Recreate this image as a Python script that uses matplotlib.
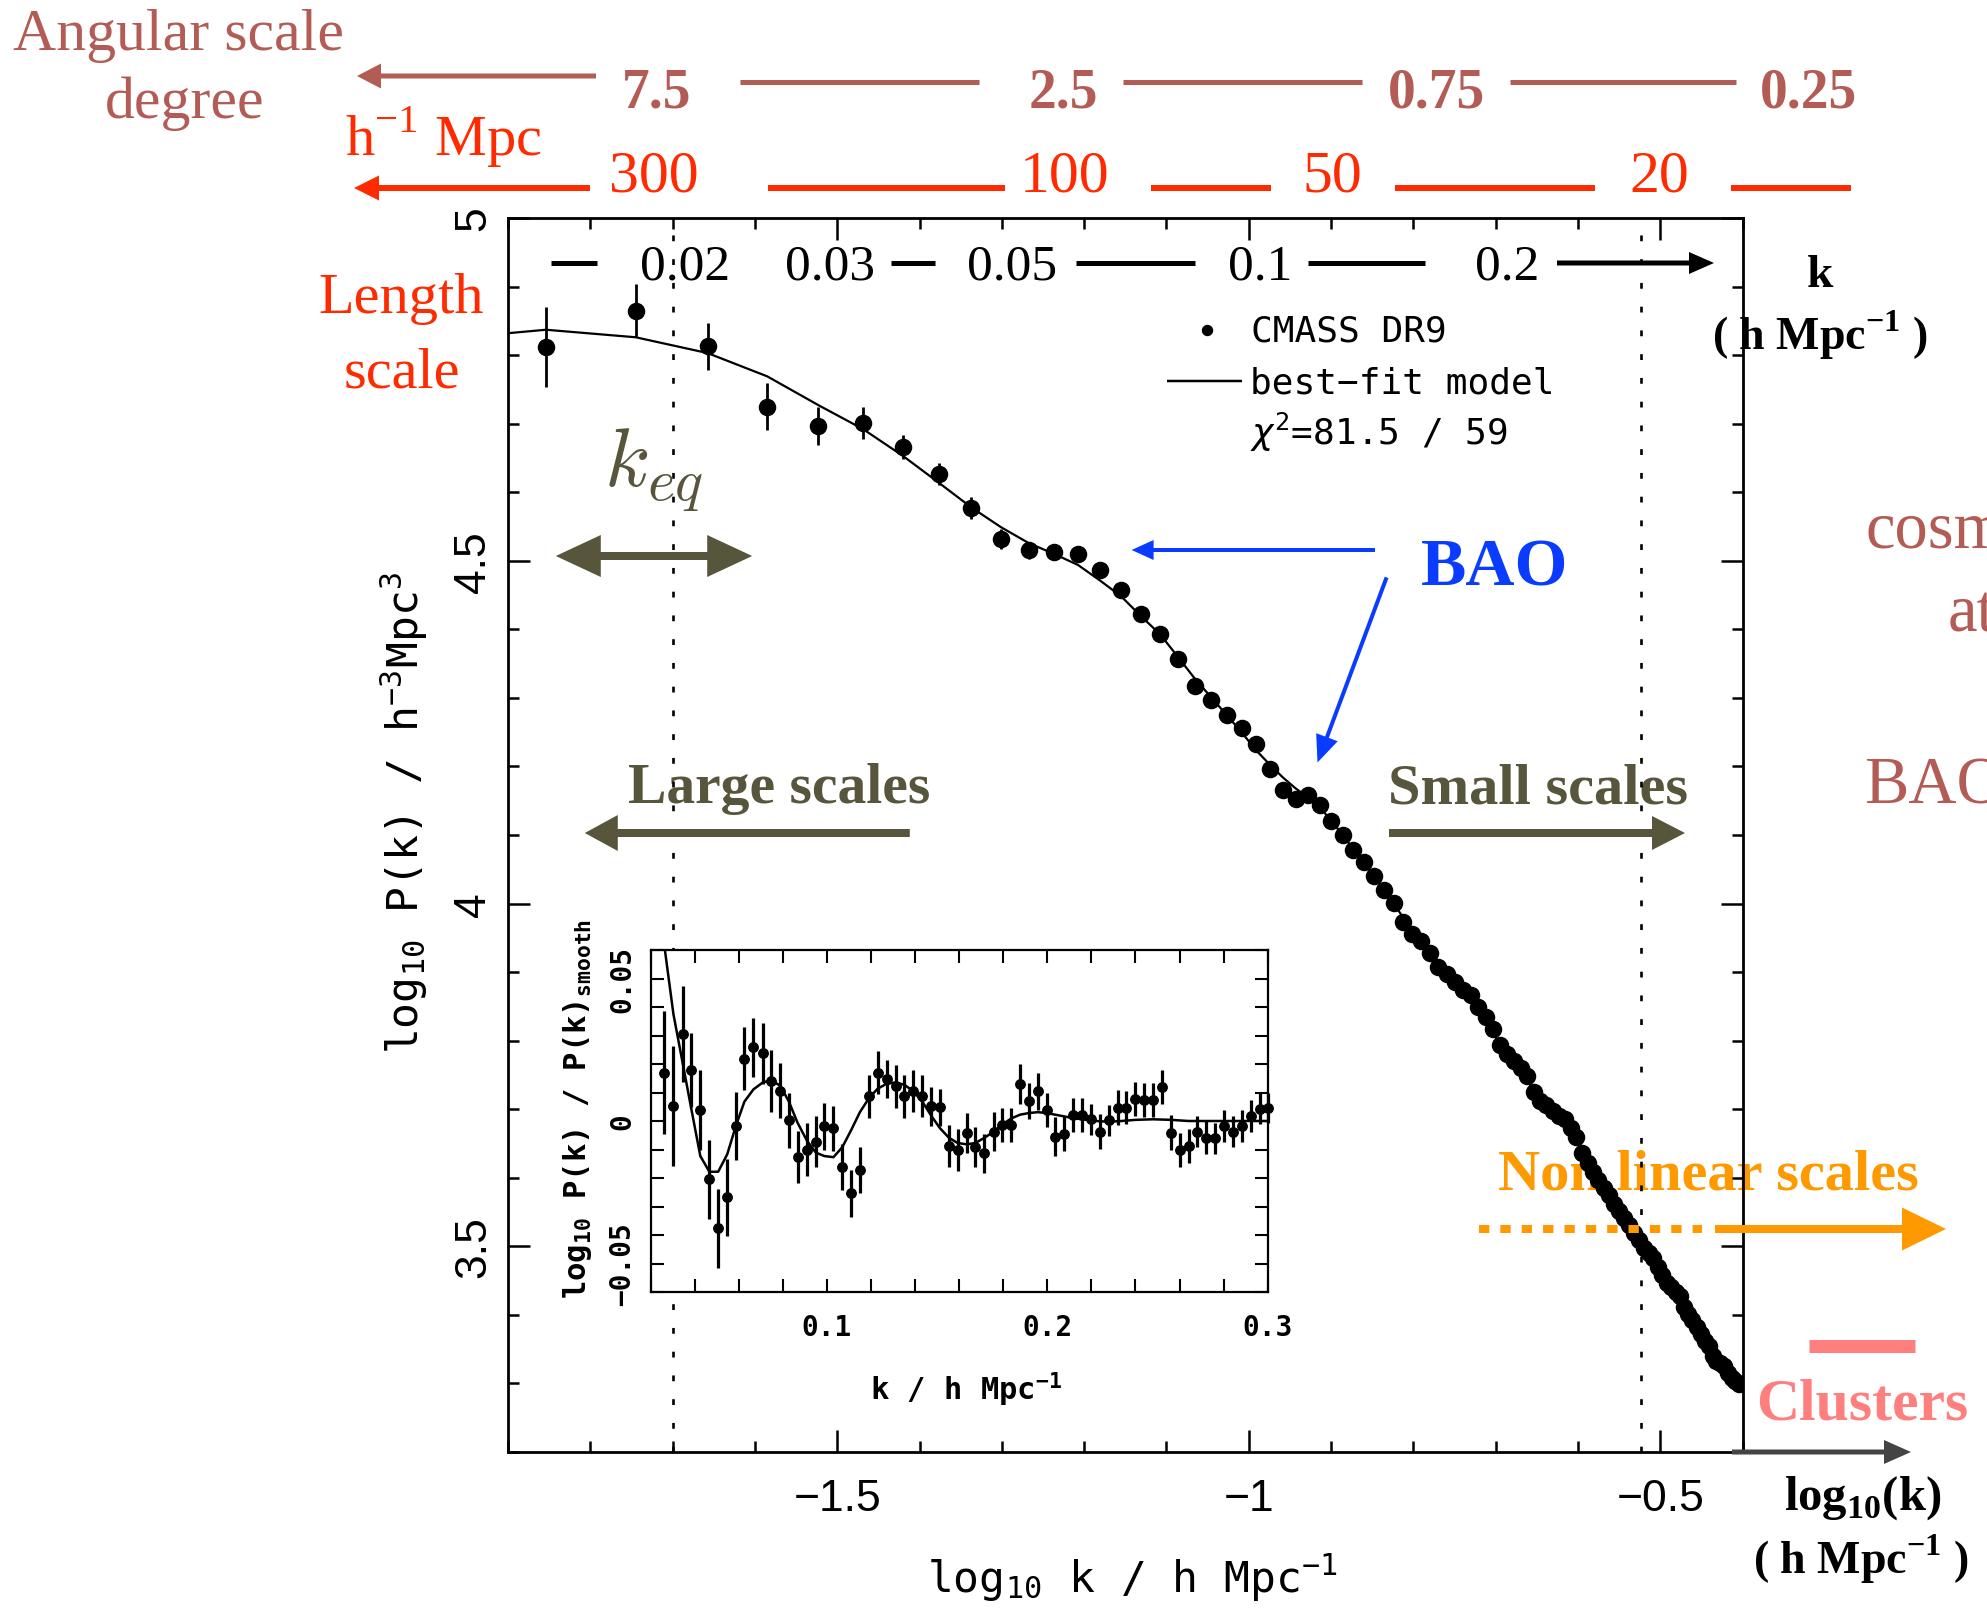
import numpy as np
import matplotlib
matplotlib.use("Agg")
import matplotlib.pyplot as plt
from matplotlib.lines import Line2D
from matplotlib.patches import FancyArrowPatch
from matplotlib.ticker import MultipleLocator
import matplotlib.transforms as mtransforms

# CMASS DR9 power spectrum (main panel)
k_data = [0.014, 0.018, 0.022, 0.026, 0.030, 0.034, 0.038, 0.042, 0.046, 0.050,
          0.054, 0.058, 0.062, 0.066, 0.070, 0.074, 0.078, 0.082, 0.086, 0.090,
          0.094, 0.098, 0.102, 0.106, 0.110, 0.114, 0.118, 0.122, 0.126, 0.130,
          0.134, 0.138, 0.142, 0.146, 0.150, 0.154, 0.158, 0.162, 0.166, 0.170,
          0.174, 0.178, 0.182, 0.186, 0.190, 0.194, 0.198, 0.202, 0.206, 0.210,
          0.214, 0.218, 0.222, 0.226, 0.230, 0.234, 0.238, 0.242, 0.246, 0.250,
          0.254, 0.258, 0.262, 0.266, 0.270, 0.274, 0.278, 0.282, 0.286, 0.290,
          0.294, 0.298, 0.302, 0.306, 0.310, 0.314, 0.318, 0.322, 0.326, 0.330,
          0.334, 0.338, 0.342, 0.346, 0.350, 0.354, 0.358, 0.362, 0.366, 0.370,
          0.374, 0.378, 0.382, 0.386, 0.390, 0.394]
logp_data = [4.812, 4.865, 4.813, 4.725, 4.697, 4.701, 4.666, 4.627, 4.577, 4.532,
             4.515, 4.513, 4.510, 4.487, 4.457, 4.422, 4.393, 4.357, 4.318, 4.297,
             4.275, 4.256, 4.233, 4.197, 4.166, 4.152, 4.158, 4.144, 4.121, 4.100,
             4.078, 4.060, 4.040, 4.020, 4.001, 3.973, 3.955, 3.945, 3.928, 3.907,
             3.897, 3.886, 3.874, 3.866, 3.849, 3.834, 3.817, 3.793, 3.780, 3.770,
             3.760, 3.749, 3.725, 3.712, 3.706, 3.698, 3.690, 3.686, 3.672, 3.660,
             3.636, 3.622, 3.608, 3.597, 3.585, 3.575, 3.562, 3.552, 3.541, 3.531,
             3.520, 3.509, 3.497, 3.490, 3.483, 3.470, 3.458, 3.447, 3.440, 3.433,
             3.427, 3.412, 3.402, 3.392, 3.382, 3.372, 3.362, 3.354, 3.340, 3.333,
             3.330, 3.326, 3.315, 3.308, 3.303, 3.299]
logp_err = [0.058, 0.038, 0.034, 0.034, 0.028, 0.023, 0.017, 0.016, 0.016, 0.015,
            0.013, 0.012, 0.010, 0.009, 0.009, 0.008, 0.008, 0.007, 0.007, 0.007,
            0.006, 0.006, 0.006, 0.006, 0.005, 0.005, 0.005, 0.005, 0.005, 0.005,
            0.005, 0.005, 0.005, 0.005, 0.005, 0.005, 0.005, 0.005, 0.005, 0.005,
            0.005, 0.005, 0.005, 0.005, 0.005, 0.005, 0.005, 0.005, 0.005, 0.005,
            0.004, 0.004, 0.004, 0.004, 0.004, 0.004, 0.004, 0.004, 0.004, 0.004,
            0.004, 0.004, 0.004, 0.004, 0.004, 0.004, 0.004, 0.004, 0.004, 0.004,
            0.004, 0.004, 0.004, 0.004, 0.004, 0.004, 0.004, 0.004, 0.004, 0.004,
            0.004, 0.004, 0.004, 0.004, 0.004, 0.004, 0.004, 0.004, 0.004, 0.004,
            0.004, 0.004, 0.004, 0.004, 0.004, 0.004]

# best-fit model (main panel)
k_model = [0.0126, 0.014, 0.018, 0.022, 0.026, 0.030, 0.034, 0.038, 0.042, 0.046,
           0.050, 0.054, 0.058, 0.062, 0.066, 0.070, 0.074, 0.078, 0.082, 0.086,
           0.090, 0.094, 0.098, 0.102, 0.106, 0.110, 0.114, 0.118, 0.122, 0.126,
           0.130, 0.140, 0.150, 0.160, 0.170, 0.180, 0.190, 0.200, 0.220, 0.250,
           0.300, 0.350, 0.394]
logp_model = [4.832, 4.837, 4.826, 4.803, 4.769, 4.727, 4.692, 4.653, 4.614, 4.578,
              4.549, 4.526, 4.510, 4.494, 4.471, 4.448, 4.419, 4.393, 4.360, 4.328,
              4.301, 4.275, 4.250, 4.224, 4.203, 4.184, 4.168, 4.155, 4.140, 4.121,
              4.100, 4.050, 4.000, 3.950, 3.908, 3.878, 3.849, 3.803, 3.735, 3.658,
              3.505, 3.382, 3.300]

# inset: BAO wiggles
k_bao = [0.0261, 0.0304, 0.0346, 0.0385, 0.0426, 0.0467, 0.0507, 0.0548, 0.0587, 0.0626,
         0.0667, 0.0709, 0.0748, 0.0789, 0.0828, 0.0867, 0.0909, 0.0950, 0.0989, 0.1030,
         0.1070, 0.1111, 0.1150, 0.1191, 0.1230, 0.1272, 0.1313, 0.1352, 0.1393, 0.1433,
         0.1474, 0.1513, 0.1554, 0.1593, 0.1635, 0.1674, 0.1715, 0.1757, 0.1796, 0.1837,
         0.1876, 0.1917, 0.1957, 0.1998, 0.2037, 0.2078, 0.2117, 0.2157, 0.2198, 0.2237,
         0.2278, 0.2320, 0.2359, 0.2400, 0.2439, 0.2480, 0.2520, 0.2561, 0.2600, 0.2641,
         0.2680, 0.2722, 0.2761, 0.2802, 0.2841, 0.2883, 0.2922, 0.2963, 0.3002]
bao_ratio = [0.0170, 0.0053, 0.0305, 0.0178, 0.0039, -0.0205, -0.0377, -0.0267, -0.0018, 0.0219,
             0.0258, 0.0237, 0.0141, 0.0107, 0.0002, -0.0127, -0.0100, -0.0072, -0.0018, -0.0026,
             -0.0161, -0.0254, -0.0172, 0.0086, 0.0170, 0.0147, 0.0122, 0.0086, 0.0104, 0.0088,
             0.0052, 0.0048, -0.0088, -0.0101, -0.0041, -0.0090, -0.0114, -0.0037, -0.0014, -0.0014,
             0.0131, 0.0070, 0.0104, 0.0039, -0.0055, -0.0045, 0.0021, 0.0022, 0.0006, -0.0037,
             0.0002, 0.0047, 0.0047, 0.0077, 0.0074, 0.0074, 0.0119, -0.0041, -0.0102, -0.0088,
             -0.0037, -0.0058, -0.0061, -0.0018, -0.0037, -0.0018, 0.0018, 0.0043, 0.0047]
bao_err = [0.0217, 0.0211, 0.0168, 0.0130, 0.0141, 0.0138, 0.0138, 0.0135, 0.0119, 0.0111,
           0.0104, 0.0107, 0.0108, 0.0098, 0.0096, 0.0092, 0.0092, 0.0088, 0.0082, 0.0080,
           0.0082, 0.0082, 0.0080, 0.0076, 0.0074, 0.0068, 0.0076, 0.0076, 0.0074, 0.0074,
           0.0068, 0.0064, 0.0074, 0.0074, 0.0070, 0.0070, 0.0070, 0.0068, 0.0061, 0.0061,
           0.0070, 0.0064, 0.0064, 0.0061, 0.0068, 0.0061, 0.0059, 0.0059, 0.0055, 0.0061,
           0.0055, 0.0061, 0.0059, 0.0059, 0.0059, 0.0059, 0.0059, 0.0061, 0.0061, 0.0059,
           0.0055, 0.0059, 0.0055, 0.0055, 0.0055, 0.0055, 0.0055, 0.0055, 0.0053]
k_bao_model = [0.0255, 0.0304, 0.0346, 0.0385, 0.0426, 0.0467, 0.0507, 0.0548, 0.0587, 0.0626,
               0.0667, 0.0709, 0.0748, 0.0789, 0.0828, 0.0867, 0.0909, 0.0950, 0.0989, 0.1030,
               0.1070, 0.1111, 0.1150, 0.1191, 0.1230, 0.1272, 0.1313, 0.1352, 0.1393, 0.1433,
               0.1474, 0.1513, 0.1554, 0.1593, 0.1635, 0.1674, 0.1715, 0.1757, 0.1796, 0.1837,
               0.1876, 0.1917, 0.1957, 0.1998, 0.2037, 0.2078, 0.2117, 0.2157, 0.2198, 0.2237,
               0.2278, 0.2320, 0.2400, 0.2480, 0.2561, 0.2641, 0.3000]
bao_model = [0.0660, 0.0375, 0.0203, 0.0043, -0.0123, -0.0178, -0.0178, -0.0117, -0.0018, 0.0068,
             0.0111, 0.0135, 0.0144, 0.0123, 0.0068, -0.0006, -0.0068, -0.0111, -0.0123, -0.0127,
             -0.0092, -0.0031, 0.0031, 0.0080, 0.0113, 0.0131, 0.0135, 0.0127, 0.0104, 0.0068,
             0.0018, -0.0025, -0.0059, -0.0077, -0.0082, -0.0077, -0.0059, -0.0037, -0.0012, 0.0009,
             0.0022, 0.0028, 0.0031, 0.0028, 0.0022, 0.0016, 0.0010, 0.0006, 0.0002, -0.0001,
             -0.0002, -0.0001, 0.0004, 0.0006, 0.0004, 0.0000, 0.0000]

# tick labels and scale annotations
main_xticks = [-1.5, -1.0, -0.5]
main_xticklabels = ['\u22121.5', '\u22121', '\u22120.5']
main_yticks = [3.5, 4.0, 4.5, 5.0]
main_yticklabels = ['3.5', '4', '4.5', '5']
inset_xticks = [0.1, 0.2, 0.3]
inset_xticklabels = ['0.1', '0.2', '0.3']
inset_yticks = [-0.05, 0.0, 0.05]
inset_yticklabels = ['\u22120.05', '0', '0.05']
top_k = [0.02, 0.03, 0.05, 0.1, 0.2]
top_k_labels = ['0.02', '0.03', '0.05', '0.1', '0.2']
vline_k = [0.02, 0.3]
deg_labels = ['7.5', '2.5', '0.75', '0.25']
mpc_labels = ['300', '100', '50', '20']

brown = '#B35C55'
red = '#FF2A00'
olive = '#57553C'
blue = '#0A3CFF'
orange = '#FF9900'
pink = '#FF7F7F'
grey = '#444444'
SERIF = 'Liberation Serif'
MONO = 'DejaVu Sans Mono'

plt.rcParams['font.family'] = ['Liberation Sans', 'DejaVu Sans']

W, H = 1987, 1615
fig = plt.figure(figsize=(W / 100, H / 100), dpi=100)


def fx(px):
    return px / W


def fy(py):
    return 1 - py / H


ax = fig.add_axes([fx(508), fy(1453), (1742.6 - 508) / W, (1453 - 219) / H])


def ftext(px, py, s, z=4, **kw):
    return ax.text(fx(px), fy(py), s, transform=fig.transFigure, clip_on=False, zorder=z, **kw)


def arrow(x0, y0, x1, y1, color, tail, head_len, head_w, z=4):
    p = FancyArrowPatch((fx(x0), fy(y0)), (fx(x1), fy(y1)), transform=fig.transFigure,
                        arrowstyle='simple,head_length=%g,head_width=%g,tail_width=%g'
                        % (head_len * 0.72, head_w * 0.72, tail * 0.72),
                        mutation_scale=1, color=color, lw=0, shrinkA=0, shrinkB=0, zorder=z)
    ax.add_artist(p)
    p.set_clip_on(False)


def seg(x0, x1, y0, color, lw_px, z=4, y1=None, **kw):
    if y1 is None:
        y1 = y0
    ln = Line2D([fx(x0), fx(x1)], [fy(y0), fy(y1)], transform=fig.transFigure,
                color=color, lw=lw_px * 0.72, solid_capstyle='butt', zorder=z, **kw)
    ax.add_artist(ln)
    ln.set_clip_on(False)


# ---- main panel
ax.errorbar(np.log10(k_data), logp_data, yerr=logp_err, fmt='o', color='k', ms=11.6,
             elinewidth=2.0, capsize=0, zorder=3)
ax.plot(np.log10(k_model), logp_model, color='k', lw=1.6, zorder=3)
for kv in vline_k:
    ax.axvline(np.log10(kv), color='k', lw=1.9, ls=(0, (2.2, 6.8)), zorder=2)

ax.set_xlim(-1.9, -0.4)
ax.set_ylim(3.2, 5.0)
ax.set_xticks(main_xticks)
ax.set_xticklabels(main_xticklabels, fontsize=32)
ax.set_yticks(main_yticks)
ax.set_yticklabels(main_yticklabels, fontsize=32, rotation=90, va='center')
ax.xaxis.set_minor_locator(MultipleLocator(0.1))
ax.yaxis.set_minor_locator(MultipleLocator(0.1))
ax.tick_params(which='both', direction='in', top=True, right=True, width=1.8)
ax.tick_params(which='major', length=15.5)
ax.tick_params(which='minor', length=8)
ax.tick_params(axis='x', pad=19)
ax.tick_params(axis='y', pad=10)
for sp in ax.spines.values():
    sp.set_linewidth(2.0)

ftext(1132, 1578, 'log$_{\\mathregular{10}}$ k / h Mpc$^{\\mathregular{-1}}$', family=MONO,
      fontsize=31, ha='center', va='center')
ftext(404, 813, 'log$_{\\mathregular{10}}$ P(k) / h$^{\\mathregular{-3}}$Mpc$^{\\mathregular{3}}$',
      family=MONO, fontsize=31, ha='center', va='center', rotation=90)

# legend
leg = Line2D([fx(1207.3)], [fy(330.7)], transform=fig.transFigure, marker='o', ms=7.2,
             color='k', ls='none')
ax.add_artist(leg)
leg.set_clip_on(False)
ftext(1251, 342, 'CMASS DR9', family=MONO, fontsize=26, va='baseline')
seg(1166.7, 1241.7, 381.7, 'k', 2.5)
ftext(1250, 393, 'best\u2212fit model', family=MONO, fontsize=26, va='baseline')
ftext(1250, 445, '$\\chi^{\\mathregular{2}}$=81.5 / 59', family=MONO, fontsize=26, va='baseline')

# k scale along the top inside the frame
tr_top = mtransforms.blended_transform_factory(ax.transData, fig.transFigure)
for kv, lab in zip(top_k, top_k_labels):
    ax.text(np.log10(kv) + 0.0135, fy(279.5), lab, transform=tr_top, family=SERIF,
            fontsize=37, ha='center', va='baseline', zorder=4)
for a, b in [(551, 597), (890.6, 935.3), (1075.5, 1195), (1308, 1425)]:
    seg(a, b, 264, 'k', 5)
arrow(1557, 264, 1714, 264, 'k', 5, 25, 22)
ftext(1820, 287, 'k', family=SERIF, fontsize=34, fontweight='bold', ha='center', va='baseline')
ftext(1820, 350, '( h Mpc$^{\\mathregular{-1}}$ )', family=SERIF, fontsize=33,
      fontweight='bold', ha='center', va='baseline')

# angular scale (degree)
ftext(178.5, 50, 'Angular scale', family=SERIF, fontsize=43, color=brown, ha='center', va='baseline')
ftext(185, 118, 'degree', family=SERIF, fontsize=43, color=brown, ha='center', va='baseline')
arrow(596, 77, 357, 77, brown, 5, 24, 25)
for xc, lab in zip([657, 1063, 1436, 1808], deg_labels):
    ftext(xc, 107, lab, family=SERIF, fontsize=40, fontweight='bold', color=brown,
          ha='center', va='baseline')
for a, b in [(740, 979), (1123, 1362), (1510, 1736)]:
    seg(a, b, 83, brown, 5)

# comoving length scale
ftext(443.5, 155, 'h$^{\\mathregular{-1}}$ Mpc', family=SERIF, fontsize=42, color=red,
      ha='center', va='baseline')
arrow(590, 189, 354, 189, red, 6, 25, 25)
for xc, lab in zip([654, 1065, 1332, 1659], mpc_labels):
    ftext(xc, 192, lab, family=SERIF, fontsize=43, color=red, ha='center', va='baseline')
for a, b in [(768, 1005), (1151, 1271), (1395, 1595), (1731, 1851)]:
    seg(a, b, 189, red, 6)
ftext(401, 313, 'Length', family=SERIF, fontsize=42, color=red, ha='center', va='baseline')
ftext(402, 387, 'scale', family=SERIF, fontsize=42, color=red, ha='center', va='baseline')

# k_eq and large / small scales
ftext(654, 486, '$k_{eq}$', math_fontfamily='cm', fontsize=60, color=olive,
      ha='center', va='baseline')
arrow(654, 557, 555.8, 557, olive, 8, 45, 42)
arrow(654, 557, 752.2, 557, olive, 8, 45, 42)
ftext(779, 803, 'Large scales', family=SERIF, fontsize=41.5, fontweight='bold', color=olive,
      ha='center', va='baseline', z=1)
arrow(909.8, 834, 584.8, 834, olive, 8, 33, 36)
ftext(1538, 804, 'Small scales', family=SERIF, fontsize=42, fontweight='bold', color=olive,
      ha='center', va='baseline', z=1)
arrow(1389, 834, 1685, 834, olive, 8, 33, 34)

# BAO
ftext(1495, 586, 'BAO', family=SERIF, fontsize=49, fontweight='bold', color=blue,
      ha='center', va='baseline')
arrow(1375, 551, 1131.6, 551, blue, 4, 22, 20)
arrow(1386.6, 578.4, 1317.5, 763.5, blue, 4, 27, 23)

# right-hand text running off the page, as in the original
ftext(1865, 548, 'cosmology', family=SERIF, fontsize=48, color=brown, va='baseline')
ftext(1948, 632, 'at', family=SERIF, fontsize=48, color=brown, va='baseline')
ftext(1864, 804, 'BAO', family=SERIF, fontsize=48, color=brown, va='baseline')

# non linear scales, clusters
ftext(1708, 1190, 'Non linear scales', family=SERIF, fontsize=42, fontweight='bold',
      color=orange, ha='center', va='baseline', z=1)
seg(1478.7, 1702, 1230, orange, 8, z=5, dashes=(1.29, 1.38), dash_capstyle='butt')
arrow(1715, 1230, 1946, 1230, orange, 8, 44, 43, z=5)
seg(1808.6, 1915, 1347, pink, 13)
ftext(1862, 1420, 'Clusters', family=SERIF, fontsize=43, fontweight='bold', color=pink,
      ha='center', va='baseline')

# log10(k) axis arrow
arrow(1732, 1453, 1911, 1453, grey, 5, 27, 24)
ftext(1863, 1510, 'log$_{\\mathregular{10}}$(k)', family=SERIF, fontsize=35, fontweight='bold',
      ha='center', va='baseline')
ftext(1861, 1574, '( h Mpc$^{\\mathregular{-1}}$ )', family=SERIF, fontsize=33, fontweight='bold',
      ha='center', va='baseline')

# ---- inset
axi = fig.add_axes([fx(650.5), fy(1293), (1267.7 - 650.5) / W, (1293 - 951) / H])
axi.errorbar(k_bao, bao_ratio, yerr=bao_err, fmt='o', color='k', ms=6.8, elinewidth=2.3,
             capsize=0, zorder=3, clip_on=False)
axi.plot(k_bao_model, bao_model, color='k', lw=1.8, zorder=2)
axi.set_xlim(0.02, 0.3)
axi.set_ylim(-0.06, 0.06)
axi.set_xticks(inset_xticks)
axi.set_xticklabels(inset_xticklabels, family=MONO, fontweight='bold', fontsize=20)
axi.set_yticks(inset_yticks)
axi.set_yticklabels(inset_yticklabels, family=MONO, fontweight='bold', fontsize=20,
                    rotation=90, va='center')
axi.xaxis.set_minor_locator(MultipleLocator(0.02))
axi.yaxis.set_minor_locator(MultipleLocator(0.01))
axi.tick_params(which='both', direction='in', top=True, right=True, width=1.5, length=9.4)
axi.tick_params(axis='x', pad=15)
axi.tick_params(axis='y', pad=10)
for sp in axi.spines.values():
    sp.set_linewidth(1.6)
axi.text(fx(966), fy(1390), 'k / h Mpc$^{\\mathregular{-1}}$', transform=fig.transFigure,
         family=MONO, fontweight='bold', fontsize=22, ha='center', va='center', clip_on=False)
axi.text(fx(577), fy(1109), 'log$_{\\mathregular{10}}$ P(k) / P(k)$_{\\mathregular{smooth}}$',
         transform=fig.transFigure, family=MONO, fontweight='bold', fontsize=22,
         ha='center', va='center', rotation=90, clip_on=False)

fig.savefig('out.png', dpi=100)
